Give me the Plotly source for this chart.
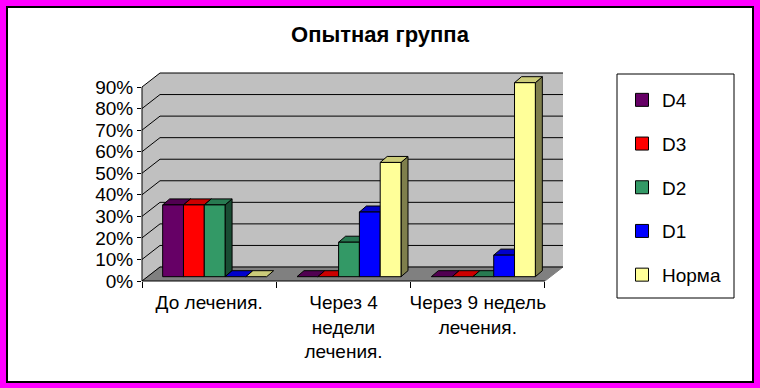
import plotly.graph_objects as go

# ---- data ----
categories = ["До лечения.", "Через 4<br>недели<br>лечения.", "Через 9 недель<br>лечения."]
series_names = ["D4", "D3", "D2", "D1", "Норма"]
d4 = [33.3, 0, 0]
d3 = [33.3, 0, 0]
d2 = [33.3, 16, 0]
d1 = [0, 30, 10]
norma = [0, 53, 90]
series_values = [d4, d3, d2, d1, norma]
series_colors = ["#660066", "#FF0000", "#339966", "#0000FF", "#FFFF99"]
y_ticks = [0, 10, 20, 30, 40, 50, 60, 70, 80, 90]
title_text = "Опытная группа"

# ---- geometry (pixels -> data units) ----
W, H = 760, 388
L, R, T, B = 142, 195, 71, 107
plot_w = W - L - R
plot_h = H - T - B
px_per_cat = 134.33
px_per_pct = 2.1556
x_min = -0.5
x_max = x_min + plot_w / px_per_cat
y_max = plot_h / px_per_pct

DX = 18 / px_per_cat      # full depth of floor
DY = 14 / px_per_pct
bw = 20.8 / px_per_cat    # bar width
sx = 5.5 / px_per_cat     # bar shift due to depth
by = 4.3 / px_per_pct     # bar base lift
ddx = 7 / px_per_cat      # bar depth
ddy = 6 / px_per_pct
n_cat = len(categories)
x_end = x_min + n_cat


def shade(hex_color, f):
    h = hex_color.lstrip("#")
    r, g, b = (int(h[i:i + 2], 16) for i in (0, 2, 4))
    return "#%02X%02X%02X" % (int(r * f), int(g * f), int(b * f))


def poly(xs, ys, fill, line="black", lw=1):
    return go.Scatter(x=xs + [xs[0]], y=ys + [ys[0]], mode="lines", fill="toself",
                      fillcolor=fill, line=dict(color=line, width=lw),
                      hoverinfo="skip", showlegend=False)


fig = go.Figure()
ymax_tick = y_ticks[-1]
# left wall
fig.add_trace(poly([x_min, x_min, x_min + DX, x_min + DX], [0, ymax_tick, ymax_tick + DY, DY],
                   "#C0C0C0", line="rgba(0,0,0,0)", lw=0))
# back wall
fig.add_trace(poly([x_min + DX, x_end + DX, x_end + DX, x_min + DX], [DY, DY, ymax_tick + DY, ymax_tick + DY],
                   "#C0C0C0", line="rgba(0,0,0,0)", lw=0))
# floor
fig.add_trace(poly([x_min, x_end, x_end + DX, x_min + DX], [0, 0, DY, DY],
                   "#808080", line="#808080", lw=1))
# gridlines
gx, gy = [], []
for v in y_ticks:
    gx += [x_min, x_min + DX, x_end + DX, None]
    gy += [v, v + DY, v + DY, None]
fig.add_trace(go.Scatter(x=gx, y=gy, mode="lines", line=dict(color="black", width=1),
                         hoverinfo="skip", showlegend=False))

# bars
n_s = len(series_names)
for c in range(n_cat):
    for s in range(n_s):
        v = series_values[s][c]
        col = series_colors[s]
        xl = c - n_s * bw / 2 + s * bw + sx
        xr = xl + bw
        yb = by
        yt = by + v
        if v > 0:
            fig.add_trace(poly([xr, xr + ddx, xr + ddx, xr], [yb, yb + ddy, yt + ddy, yt], shade(col, 0.5)))
        fig.add_trace(poly([xl, xr, xr + ddx, xl + ddx], [yt, yt, yt + ddy, yt + ddy], shade(col, 0.8)))
        if v > 0:
            fig.add_trace(poly([xl, xr, xr, xl], [yb, yb, yt, yt], col))

# legend entries
for name, col in zip(series_names, series_colors):
    fig.add_trace(go.Scatter(x=[None], y=[None], mode="markers", name=name, legendgroup=name,
                             marker=dict(symbol="square", size=13, color=col,
                                         line=dict(color="black", width=1))))


def px_x(p):
    return (p - L) / plot_w


def px_y(p):
    return (H - B - p) / plot_h


shapes = [
    dict(type="line", xref="paper", yref="y", x0=0, x1=0, y0=0, y1=ymax_tick,
         line=dict(color="black", width=1), layer="above"),
    dict(type="line", xref="x", yref="paper", x0=x_min, x1=x_end, y0=0, y1=0,
         line=dict(color="black", width=1), layer="above"),
    dict(type="rect", xref="paper", yref="paper", x0=px_x(617), x1=px_x(734), y0=px_y(74), y1=px_y(298),
         line=dict(color="black", width=1), layer="below"),
    dict(type="rect", xref="paper", yref="paper", x0=px_x(3), x1=px_x(757), y0=px_y(3), y1=px_y(385),
         line=dict(color="#FF00FF", width=6), layer="above"),
    dict(type="rect", xref="paper", yref="paper", x0=px_x(7), x1=px_x(753), y0=px_y(7), y1=px_y(382),
         line=dict(color="black", width=2), layer="above"),
]

font_family = "Arial, Liberation Sans, sans-serif"
fig.update_layout(
    width=W, height=H,
    margin=dict(l=L, r=R, t=T, b=B, pad=0),
    paper_bgcolor="white", plot_bgcolor="white",
    font=dict(family=font_family, size=19, color="black"),
    title=dict(text="<b>" + title_text + "</b>", x=0.5, xref="container", xanchor="center",
               y=1 - 34 / H, yref="container", yanchor="middle",
               font=dict(size=22, family=font_family, color="black")),
    xaxis=dict(range=[x_min, x_max], showgrid=False, zeroline=False, showline=False,
               tickmode="array", tickvals=list(range(n_cat)), ticktext=categories,
               ticks="", tickfont=dict(size=19), ticklabelstandoff=8,
               minor=dict(tickmode="array", tickvals=[x_min + i for i in range(n_cat + 1)],
                          ticks="outside", ticklen=6, tickcolor="black", tickwidth=1, showgrid=False)),
    yaxis=dict(range=[0, y_max], showgrid=False, zeroline=False, showline=False,
               tickmode="array", tickvals=y_ticks, ticktext=[f"{v}%" for v in y_ticks],
               ticks="outside", ticklen=4, tickcolor="black", tickfont=dict(size=19)),
    legend=dict(x=px_x(622), xanchor="left", y=px_y(81), yanchor="top",
                bgcolor="rgba(0,0,0,0)", borderwidth=0, tracegroupgap=16,
                traceorder="grouped", font=dict(size=19), itemwidth=30, maxheight=380),
    shapes=shapes,
    showlegend=True,
)

fig.write_html("out.html", config={"displayModeBar": False},
               post_script="document.body.style.margin='0';document.body.style.overflow='hidden';")
